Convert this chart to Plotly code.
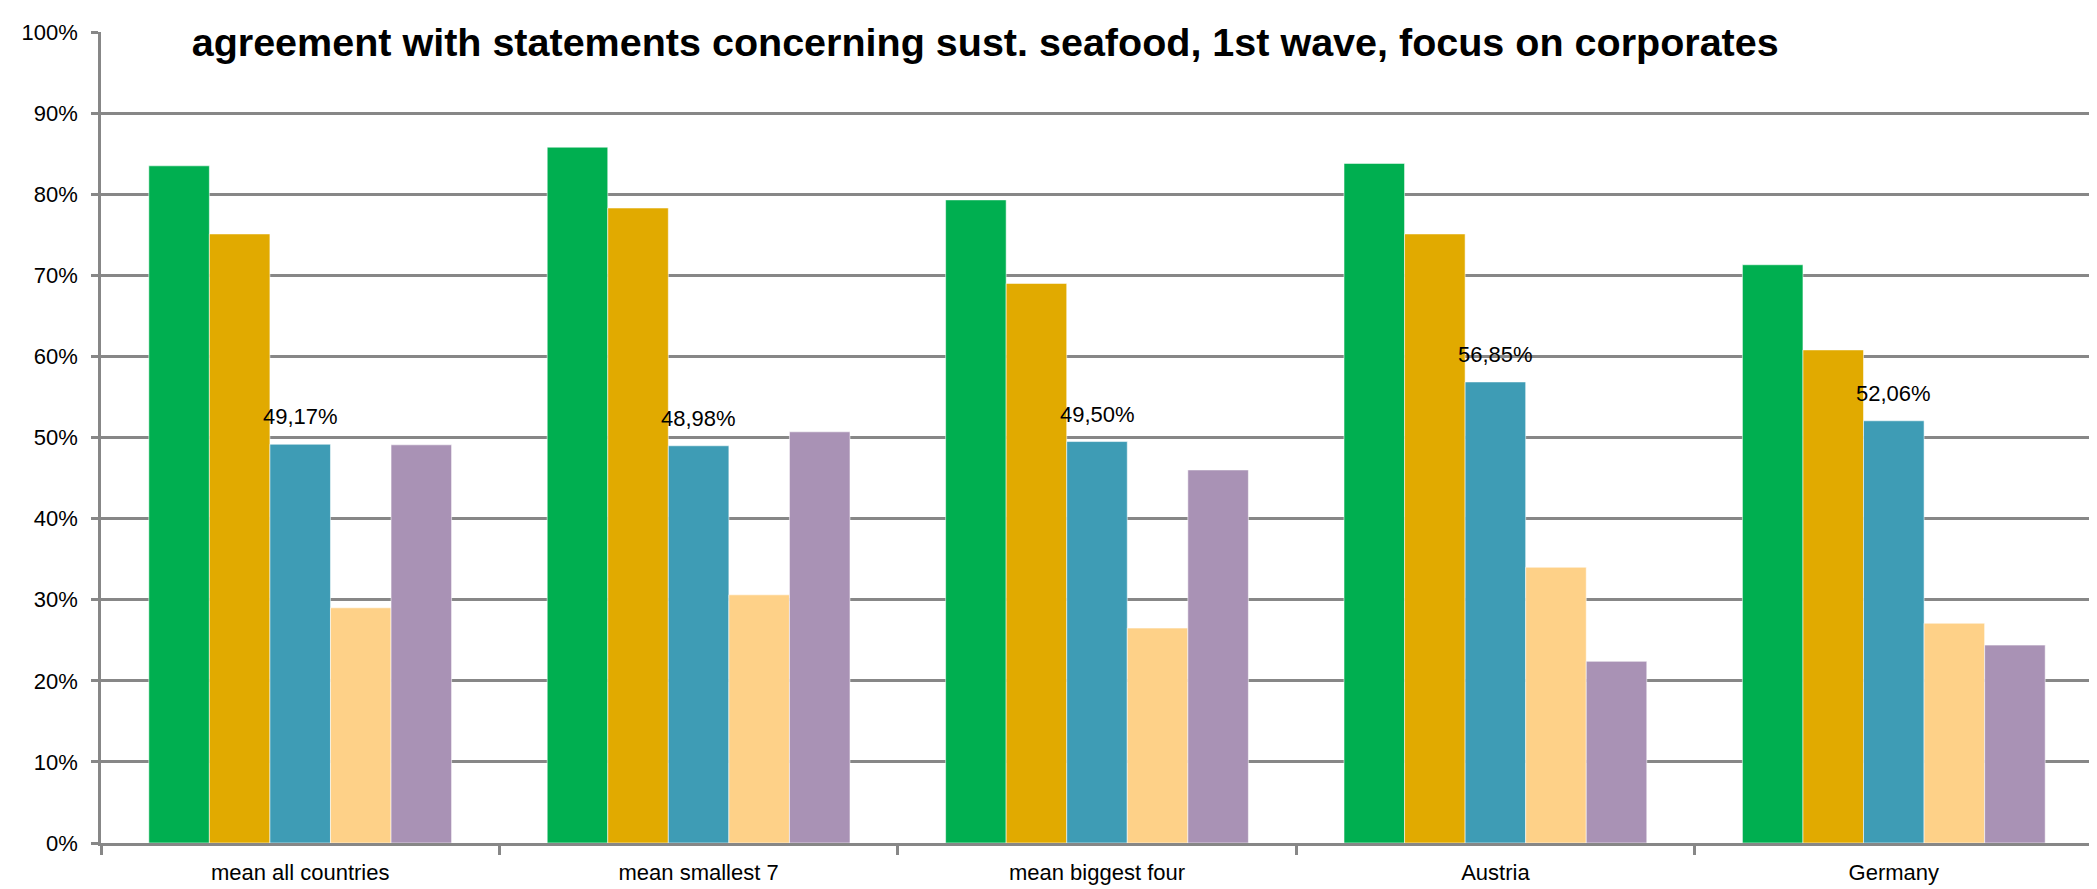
import plotly.graph_objects as go

categories = ["mean all countries", "mean smallest 7", "mean biggest four", "Austria", "Germany"]
series_names = ["statement 1", "statement 2", "statement 3", "statement 4", "statement 5"]
s1 = [0.835, 0.858, 0.793, 0.838, 0.713]
s2 = [0.751, 0.783, 0.690, 0.751, 0.608]
s3 = [0.4917, 0.4898, 0.4950, 0.5685, 0.5206]
s4 = [0.290, 0.306, 0.265, 0.340, 0.271]
s5 = [0.491, 0.507, 0.460, 0.224, 0.244]
colors = ["#00AF50", "#E1AA00", "#3E9CB5", "#FED188", "#A992B5"]
title_text = "agreement with statements concerning sust. seafood, 1st wave, focus on corporates"

fig = go.Figure()
for name, vals, col in zip(series_names, [s1, s2, s3, s4, s5], colors):
    fig.add_trace(go.Bar(
        x=categories, y=vals, name=name,
        marker=dict(color=col, line=dict(color="rgba(255,255,255,0.55)", width=1)),
    ))

for c, v in zip(categories, s3):
    fig.add_annotation(
        x=c, y=v, xref="x", yref="y",
        text=f"{v*100:.2f}%".replace(".", ","),
        showarrow=False, yanchor="bottom", yshift=13,
        font=dict(family="Liberation Sans, Arial, sans-serif", size=22, color="#000000"),
    )

fig.update_layout(
    width=2097, height=889,
    paper_bgcolor="white", plot_bgcolor="white",
    margin=dict(l=93, r=12, t=18, b=48),
    barmode="group", bargap=0.24, bargroupgap=0,
    showlegend=False,
    title=dict(
        text=title_text, x=0.466, xanchor="center", y=1 - 34 / 889, yanchor="middle",
        font=dict(family="Liberation Sans, Arial, sans-serif",
                  size=39.5, color="#000000", weight="bold"),
    ),
    font=dict(family="Liberation Sans, Arial, sans-serif", size=22, color="#000000"),
)
fig.update_yaxes(
    range=[0, 1], dtick=0.1, tickformat=".0%",
    showgrid=True, gridcolor="#878787", gridwidth=2.5,
    showline=True, linecolor="#878787", linewidth=2.5,
    ticks="outside", ticklen=7, tickcolor="#878787", tickwidth=2.5,
    zeroline=False, fixedrange=True,
    tickfont=dict(size=22), ticklabelstandoff=9,
)
fig.update_xaxes(
    showline=True, linecolor="#878787", linewidth=2.5,
    ticks="outside", tickson="boundaries", ticklen=9, tickcolor="#878787", tickwidth=2.5,
    showgrid=False, tickfont=dict(size=22), ticklabelstandoff=8,
)

fig.write_html("out.html")
